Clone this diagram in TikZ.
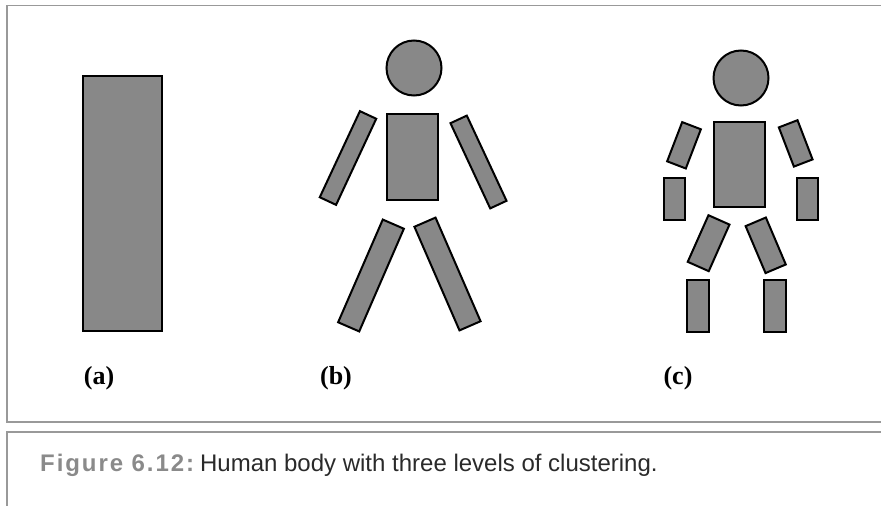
\documentclass[tikz,border=0pt]{standalone}
\usepackage{fontspec}
\setmainfont{Liberation Serif}
\newfontfamily\capfont{Liberation Sans}
\newfontfamily\figfont[LetterSpace=8]{Liberation Sans}
\usepackage{tikz}
\usetikzlibrary{positioning}
\definecolor{bodygray}{HTML}{888888}
\definecolor{framegray}{HTML}{999999}
\definecolor{figgray}{HTML}{8A8A8A}
\definecolor{captext}{HTML}{2A2A2A}

\begin{document}
\begin{tikzpicture}[
  x=1pt, y=-1pt,
  part/.style={draw=black, line width=2pt, fill=bodygray, rectangle, inner sep=0pt, minimum width=#1},
  head/.style={draw=black, line width=2pt, fill=bodygray, circle, inner sep=0pt, minimum size=55pt},
  lbl/.style={font=\fontsize{26}{30}\selectfont\bfseries, anchor=base, inner sep=0pt},
  frame/.style={draw=framegray, line width=1.8pt}
]
  \useasboundingbox (0,0) rectangle (881,506);

  % Frames
  \draw[frame] (890,5.5) -- (7,5.5) -- (7,422) -- (890,422);
  \draw[frame] (890,432) -- (7,432) -- (7,515);

  % (a) one cluster
  \node[part=79pt, minimum height=255pt] (whole) at (122.5,203.5) {};

  % (b) six clusters
  \node[head] (headB) at (414,68) {};
  \node[part=51pt, minimum height=86pt] (torsoB) at (412.5,157) {};
  \node[part=18pt, minimum height=95pt, rotate=-25] (larmB) at (348,158) {};
  \node[part=18pt, minimum height=94pt, rotate=25] (rarmB) at (478.5,162) {};
  \node[part=23pt, minimum height=112pt, rotate=-23.5] (llegB) at (371,275.5) {};
  \node[part=23pt, minimum height=113pt, rotate=23.5] (rlegB) at (447.5,274) {};

  % (c) ten clusters
  \node[head] (headC) at (741,78) {};
  \node[part=51pt, minimum height=85pt] (torsoC) at (739.5,164.5) {};
  \node[part=20pt, minimum height=42pt, rotate=-21] (luarmC) at (684,145.3) {};
  \node[part=21pt, minimum height=42pt] (llarmC) at (674.5,199) {};
  \node[part=20pt, minimum height=42pt, rotate=21] (ruarmC) at (795.7,143.4) {};
  \node[part=21pt, minimum height=42pt] (rlarmC) at (807,199) {};
  \node[part=23pt, minimum height=51pt, rotate=-24] (lthighC) at (708.6,243.2) {};
  \node[part=22pt, minimum height=51pt, rotate=23] (rthighC) at (765.7,245.3) {};
  \node[part=22pt, minimum height=52pt] (lshinC) at (698,306) {};
  \node[part=22pt, minimum height=52pt] (rshinC) at (774.7,306) {};

  % Labels
  \node[lbl] (labA) at (99,384) {(a)};
  \node[lbl] (labB) at (336,384) {(b)};
  \node[lbl] (labC) at (678,384) {(c)};

  % Caption
  \node[anchor=base west, inner sep=0pt, font=\fontsize{24}{28}\selectfont] (caption) at (40,471)
    {{\figfont\bfseries\color{figgray}Figure 6.12:}\ {\capfont\color{captext}Human body with three levels of clustering.}};
\end{tikzpicture}
\end{document}
